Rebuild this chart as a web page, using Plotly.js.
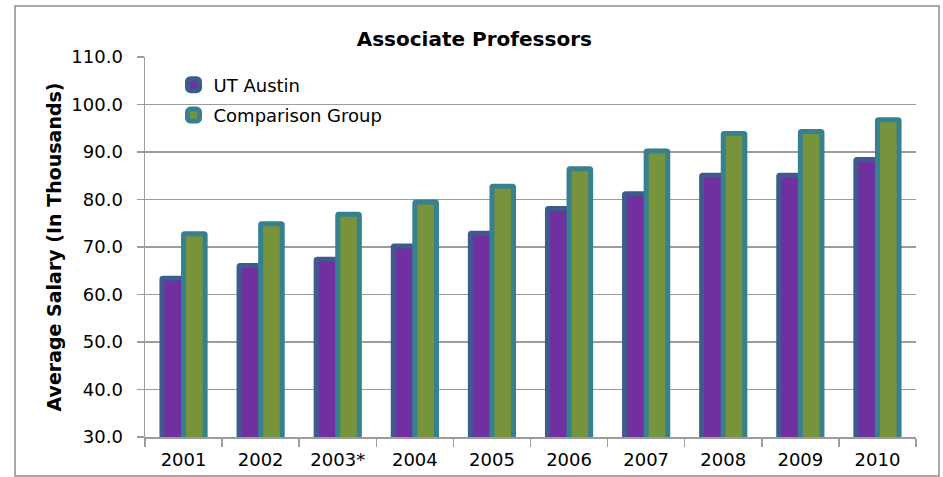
<!DOCTYPE html>
<html>
<head>
<meta charset="utf-8">
<script src="https://cdn.plot.ly/plotly-3.0.1.min.js"></script>
<style>html,body{margin:0;padding:0;background:#fff;}#chart{width:943px;height:477px;}</style>
</head>
<body>
<div id="chart"></div>
<script>
const years = ['2001','2002','2003*','2004','2005','2006','2007','2008','2009','2010'];
const utAustin = [63.4, 66.1, 67.4, 70.2, 72.9, 78.1, 81.2, 85.1, 85.1, 88.4];
const comparisonGroup = [72.8, 74.9, 76.9, 79.5, 82.8, 86.5, 90.2, 93.9, 94.3, 96.8];
const seriesNames = ['UT Austin', 'Comparison Group'];

const FONT = 'DejaVu Sans, Verdana, sans-serif';
const GRID = '#9c9c9c';

const traces = [
  {type:'bar', name:seriesNames[0], x:years, y:utAustin, legendgroup:'a',
   marker:{color:'#7030A0', cornerradius:1, line:{color:'#3D5B8D', width:5}}},
  {type:'bar', name:seriesNames[1], x:years, y:comparisonGroup, legendgroup:'b',
   marker:{color:'#77933C', cornerradius:1, line:{color:'#37808F', width:5}}}
];

const layout = {
  width:943, height:477,
  margin:{l:145, r:27, t:57, b:40, pad:0},
  paper_bgcolor:'#fff', plot_bgcolor:'#fff',
  font:{family:FONT, size:18, color:'#000'},
  barmode:'group', bargap:0.44, bargroupgap:0,
  title:{text:'<b>Associate Professors</b>', font:{family:FONT, size:20, color:'#000'},
         xref:'container', yref:'container', x:0.503, xanchor:'center', y:0.918, yanchor:'middle'},
  showlegend:true,
  legend:{x:0.037, xanchor:'left', y:0.975, yanchor:'top', bgcolor:'rgba(0,0,0,0)',
          traceorder:'grouped', tracegroupgap:4, font:{family:FONT, size:18, color:'#000'}},
  xaxis:{type:'category', showgrid:false, showline:true, linecolor:GRID, linewidth:1.5,
         ticks:'outside', tickson:'boundaries', ticklen:8, tickcolor:GRID, tickwidth:1.5,
         ticklabelstandoff:6, tickfont:{family:FONT, size:18, color:'#000'}},
  yaxis:{range:[30,110], dtick:10, tick0:30, tickformat:'.1f', showgrid:true, gridcolor:GRID, gridwidth:1.5,
         showline:true, linecolor:GRID, linewidth:1.5, ticks:'outside', ticklen:7, tickcolor:GRID, tickwidth:1.5,
         ticklabelstandoff:10, tickfont:{family:FONT, size:18, color:'#000'},
         title:{text:'<b>Average Salary (In Thousands)</b>', font:{family:FONT, size:19, color:'#000'}, standoff:4}},
  shapes:[{type:'rect', xref:'paper', yref:'paper',
           x0:(15-145)/771, x1:(939-145)/771, y0:(437-476)/380, y1:(437-6)/380,
           line:{color:'#8c8c8c', width:1.5}, fillcolor:'rgba(0,0,0,0)', layer:'below'}]
};

Plotly.newPlot('chart', traces, layout, {displayModeBar:false, staticPlot:true});
</script>
</body>
</html>
